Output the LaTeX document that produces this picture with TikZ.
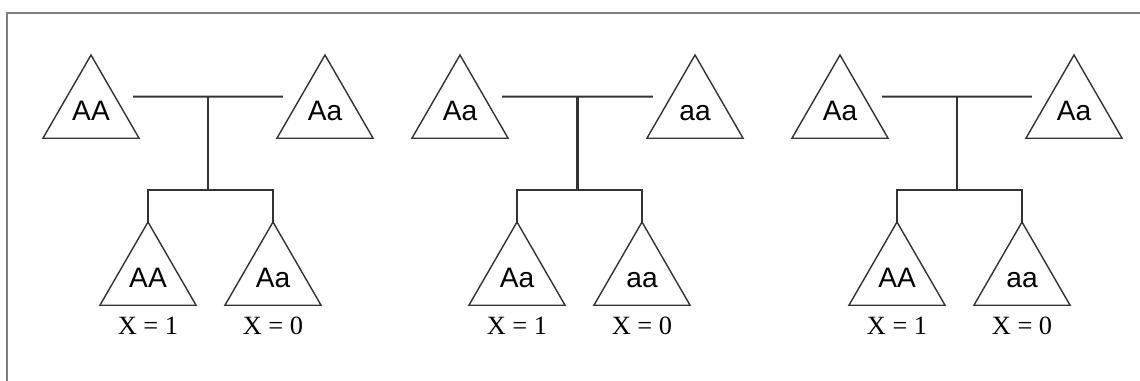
\documentclass[tikz,border=0pt]{standalone}
\usepackage{fontspec}
\setmainfont{Liberation Serif}
\setsansfont{Liberation Sans}
\usepackage{xcolor}
\definecolor{cLine}{HTML}{333333}
\definecolor{cFrame}{HTML}{7F7F7F}
\usepackage{tikz}
\usetikzlibrary{positioning,shapes.geometric,calc}
\tikzset{
  node-tri/.style={draw=cLine,line width=0.8pt,regular polygon,
    regular polygon sides=3,minimum size=22.2mm,inner sep=0pt,outer sep=0pt,
    text height=11.5pt,text depth=0pt,font=\sffamily\fontsize{16}{18}\selectfont},
  node-x/.style={inner sep=0pt,font=\fontsize{15}{17}\selectfont},
  link/.style={draw=cLine,line width=1.2pt},
  link-mate/.style={link,shorten <=3.6mm,shorten >=3.6mm},
  frame-line/.style={draw=cFrame,line width=1.7pt},
}

\begin{document}
\begin{tikzpicture}
  \useasboundingbox (0,0) rectangle (22.8,-7.62);
  % frame
  \draw[frame-line] (0.14,-7.62) -- (0.14,-0.26) -- (22.8,-0.26);

  % panel 1: AA x Aa
  \node[node-tri] (p1) at (1.82,-2.21)  {AA};
  \node[node-tri] (q1) at (6.50,-2.21)  {Aa};
  \node[node-tri] (c11) at (2.96,-5.55) {AA};
  \node[node-tri] (c12) at (5.46,-5.55) {Aa};
  \node[node-x,below=2.2mm of c11] (x11) {X = 1};
  \node[node-x,below=2.2mm of c12] (x12) {X = 0};
  \draw[link-mate] (p1.side 3) -- (q1.side 1);
  \coordinate (m1) at ($(p1.side 3)!.5!(q1.side 1)$);
  \coordinate (s1) at ($(c11.corner 1)!.5!(c12.corner 1)+(0,0.64)$);
  \draw[link] (m1) -- (m1 |- s1);
  \draw[link] (c11.corner 1) |- (s1) -| (c12.corner 1);

  % panel 2: Aa x aa
  \node[node-tri] (p2) at (9.20,-2.21)   {Aa};
  \node[node-tri] (q2) at (13.90,-2.21)  {aa};
  \node[node-tri] (c21) at (10.34,-5.55) {Aa};
  \node[node-tri] (c22) at (12.84,-5.55) {aa};
  \node[node-x,below=2.2mm of c21] (x21) {X = 1};
  \node[node-x,below=2.2mm of c22] (x22) {X = 0};
  \draw[link-mate] (p2.side 3) -- (q2.side 1);
  \coordinate (m2) at ($(p2.side 3)!.5!(q2.side 1)$);
  \coordinate (s2) at ($(c21.corner 1)!.5!(c22.corner 1)+(0,0.64)$);
  \draw[link] (m2) -- (m2 |- s2);
  \draw[link] (c21.corner 1) |- (s2) -| (c22.corner 1);

  % panel 3: Aa x Aa
  \node[node-tri] (p3) at (16.80,-2.21)  {Aa};
  \node[node-tri] (q3) at (21.48,-2.21)  {Aa};
  \node[node-tri] (c31) at (17.94,-5.55) {AA};
  \node[node-tri] (c32) at (20.44,-5.55) {aa};
  \node[node-x,below=2.2mm of c31] (x31) {X = 1};
  \node[node-x,below=2.2mm of c32] (x32) {X = 0};
  \draw[link-mate] (p3.side 3) -- (q3.side 1);
  \coordinate (m3) at ($(p3.side 3)!.5!(q3.side 1)$);
  \coordinate (s3) at ($(c31.corner 1)!.5!(c32.corner 1)+(0,0.64)$);
  \draw[link] (m3) -- (m3 |- s3);
  \draw[link] (c31.corner 1) |- (s3) -| (c32.corner 1);
\end{tikzpicture}
\end{document}
